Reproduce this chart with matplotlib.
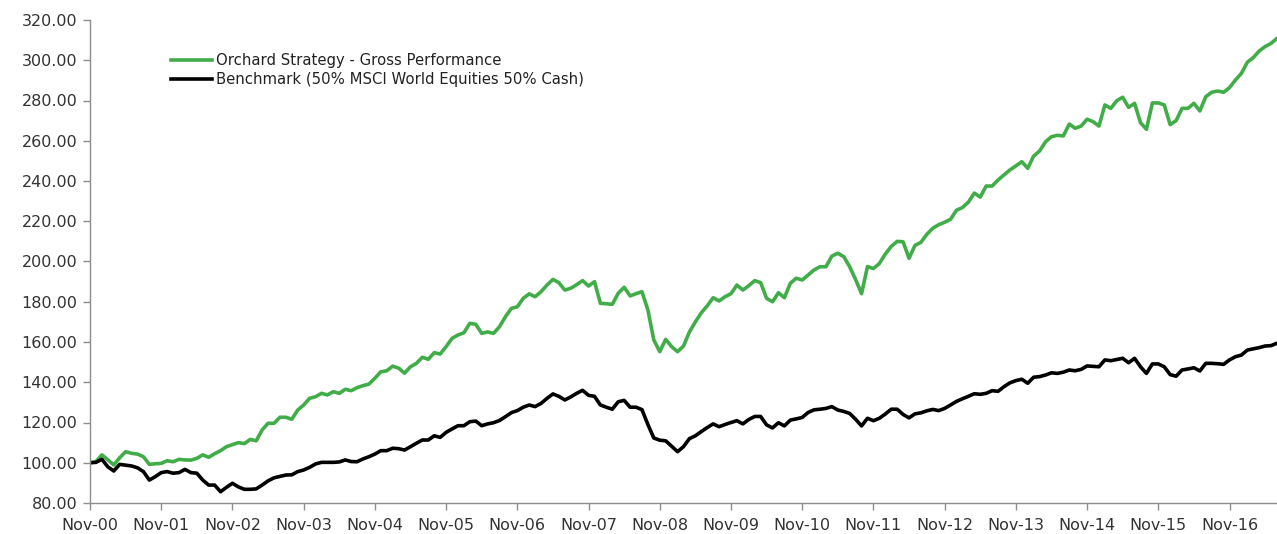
import numpy as np
import matplotlib
matplotlib.use("Agg")
import matplotlib.pyplot as plt

# monthly index values, Nov-00 .. Jul-17
orchard = [
    100.0, 100.5, 103.9, 101.5, 98.9, 102.5, 105.5, 104.7, 104.3, 103.0,
    99.2, 99.5, 99.7, 101.0, 100.5, 101.7, 101.4, 101.3, 102.2, 103.9,
    102.7, 104.5, 106.0, 108.0, 109.0, 110.0, 109.5, 111.6, 110.9, 116.3,
    119.6, 119.6, 122.6, 122.6, 121.6, 126.2, 128.7, 132.0, 132.8, 134.5,
    133.7, 135.3, 134.5, 136.5, 135.8, 137.3, 138.3, 139.1, 142.0, 145.2,
    145.7, 148.0, 147.0, 144.5, 147.7, 149.4, 152.4, 151.4, 154.7, 154.0,
    157.7, 161.8, 163.5, 164.6, 169.3, 168.8, 164.3, 165.0, 164.3, 167.6,
    172.6, 176.7, 177.5, 181.7, 183.9, 182.5, 185.0, 188.3, 191.1, 189.5,
    185.8, 186.7, 188.5, 190.5, 187.8, 190.0, 179.2, 179.0, 178.7, 184.2,
    187.2, 182.9, 184.0, 185.0, 175.9, 161.0, 155.2, 161.3, 157.7, 155.2,
    158.0, 165.0, 170.0, 174.5, 178.0, 182.0, 180.4, 182.5, 184.0, 188.3,
    185.8, 188.0, 190.5, 189.5, 181.7, 180.0, 184.5, 182.0, 189.2, 191.7,
    190.8, 193.3, 195.8, 197.4, 197.4, 202.7, 204.1, 202.4, 197.4, 191.0,
    184.0, 197.5, 196.5, 199.0, 203.7, 207.5, 210.0, 209.8, 201.6, 208.0,
    209.5, 213.5, 216.5, 218.3, 219.5, 221.0, 225.5, 226.8, 229.5, 234.0,
    232.0, 237.5, 237.5, 240.5, 243.0, 245.5, 247.5, 249.6, 246.3, 252.4,
    254.9, 259.5, 262.0, 262.7, 262.4, 268.3, 266.2, 267.3, 270.7, 269.5,
    267.3, 277.8, 276.1, 279.9, 281.6, 276.6, 278.6, 269.0, 265.7, 278.8,
    278.8, 277.8, 268.0, 270.0, 276.1, 276.1, 278.6, 274.8, 281.9, 284.1,
    284.7, 284.1, 286.4, 290.2, 293.5, 299.0, 301.3, 304.6, 306.8, 308.4,
    310.9,
]

benchmark = [
    100.0, 100.2, 101.7, 98.0, 95.9, 99.2, 98.8, 98.4, 97.5, 95.6,
    91.4, 93.1, 95.1, 95.6, 94.8, 95.1, 96.7, 95.1, 94.8, 91.4,
    88.9, 88.9, 85.6, 87.8, 89.8, 88.0, 86.8, 86.8, 87.0, 88.9,
    91.0, 92.5, 93.2, 93.9, 94.0, 95.6, 96.4, 97.7, 99.4, 100.2,
    100.2, 100.2, 100.4, 101.4, 100.6, 100.5, 101.9, 103.0, 104.3, 106.0,
    106.0, 107.2, 107.0, 106.3, 108.0, 109.7, 111.3, 111.3, 113.4, 112.6,
    115.1, 116.8, 118.4, 118.4, 120.4, 120.7, 118.4, 119.3, 119.9, 121.0,
    122.9, 124.9, 125.9, 127.6, 128.7, 127.9, 129.5, 132.0, 134.2, 133.0,
    131.2, 132.7, 134.5, 136.0, 133.5, 133.0, 128.7, 127.6, 126.6, 130.3,
    131.0, 127.6, 127.6, 126.4, 119.0, 112.3, 111.2, 110.9, 108.2, 105.5,
    108.0, 112.0, 113.4, 115.5, 117.5, 119.3, 117.9, 119.0, 120.0, 120.9,
    119.3, 121.5, 123.0, 123.0, 118.8, 117.3, 119.9, 118.3, 121.2, 121.8,
    122.5, 125.0, 126.3, 126.6, 127.0, 127.9, 126.2, 125.5, 124.5, 121.6,
    118.3, 122.1, 120.9, 122.1, 124.2, 126.6, 126.6, 124.0, 122.3, 124.3,
    124.8, 125.8, 126.5, 125.9, 127.0, 128.7, 130.5, 131.8, 133.0, 134.3,
    134.0, 134.5, 135.8, 135.5, 137.8, 139.7, 140.8, 141.5, 139.5, 142.5,
    142.8, 143.6, 144.7, 144.4, 145.0, 146.1, 145.7, 146.4, 148.1, 147.9,
    147.7, 151.1, 150.7, 151.3, 151.9, 149.7, 151.9, 147.7, 144.4, 149.1,
    149.1, 147.7, 143.8, 143.0, 146.1, 146.6, 147.2, 145.6, 149.4, 149.4,
    149.2, 148.9, 151.1, 152.7, 153.5, 156.0, 156.6, 157.2, 158.0, 158.2,
    159.4,
]

years = ["00", "01", "02", "03", "04", "05", "06", "07", "08",
         "09", "10", "11", "12", "13", "14", "15", "16"]
tick_labels = ["Nov-" + y for y in years]

months = np.arange(len(orchard))

plt.rcParams['font.family'] = ['DejaVu Sans']

fig = plt.figure(figsize=(12.77, 5.34), dpi=100)
ax = fig.add_axes([90 / 1277, 31 / 534, 1 - 90 / 1277, 483 / 534])

ax.plot(months, orchard, color='#41ad49', lw=2.6,
        label='Orchard Strategy - Gross Performance', solid_joinstyle='round')
ax.plot(months, benchmark, color='black', lw=2.6,
        label='Benchmark (50% MSCI World Equities 50% Cash)', solid_joinstyle='round')

ax.set_xlim(0, len(orchard) - 1)
ax.set_ylim(80, 320)
ax.set_yticks(np.arange(80, 321, 20))
ax.set_yticklabels(["%.2f" % v for v in np.arange(80, 321, 20)])
ax.set_xticks(np.arange(0, 12 * len(years), 12))
ax.set_xticklabels(tick_labels)

for s in ['top', 'right']:
    ax.spines[s].set_visible(False)
for s in ['left', 'bottom']:
    ax.spines[s].set_color('#8c8c8c')
    ax.spines[s].set_linewidth(1.0)
ax.tick_params(axis='both', colors='#8c8c8c', length=5, width=1.0,
               labelsize=11.5, labelcolor='#333333')
ax.tick_params(axis='x', pad=6)
ax.tick_params(axis='y', pad=4)

fig.legend(loc='upper left', bbox_to_anchor=(171 / 1277, 1 - 53 / 534),
           frameon=False, fontsize=10.7, handlelength=2.75, handletextpad=0.3,
           labelspacing=0.3, borderpad=0, borderaxespad=0,
           labelcolor='#222222')

fig.savefig('out.png', dpi=100)
